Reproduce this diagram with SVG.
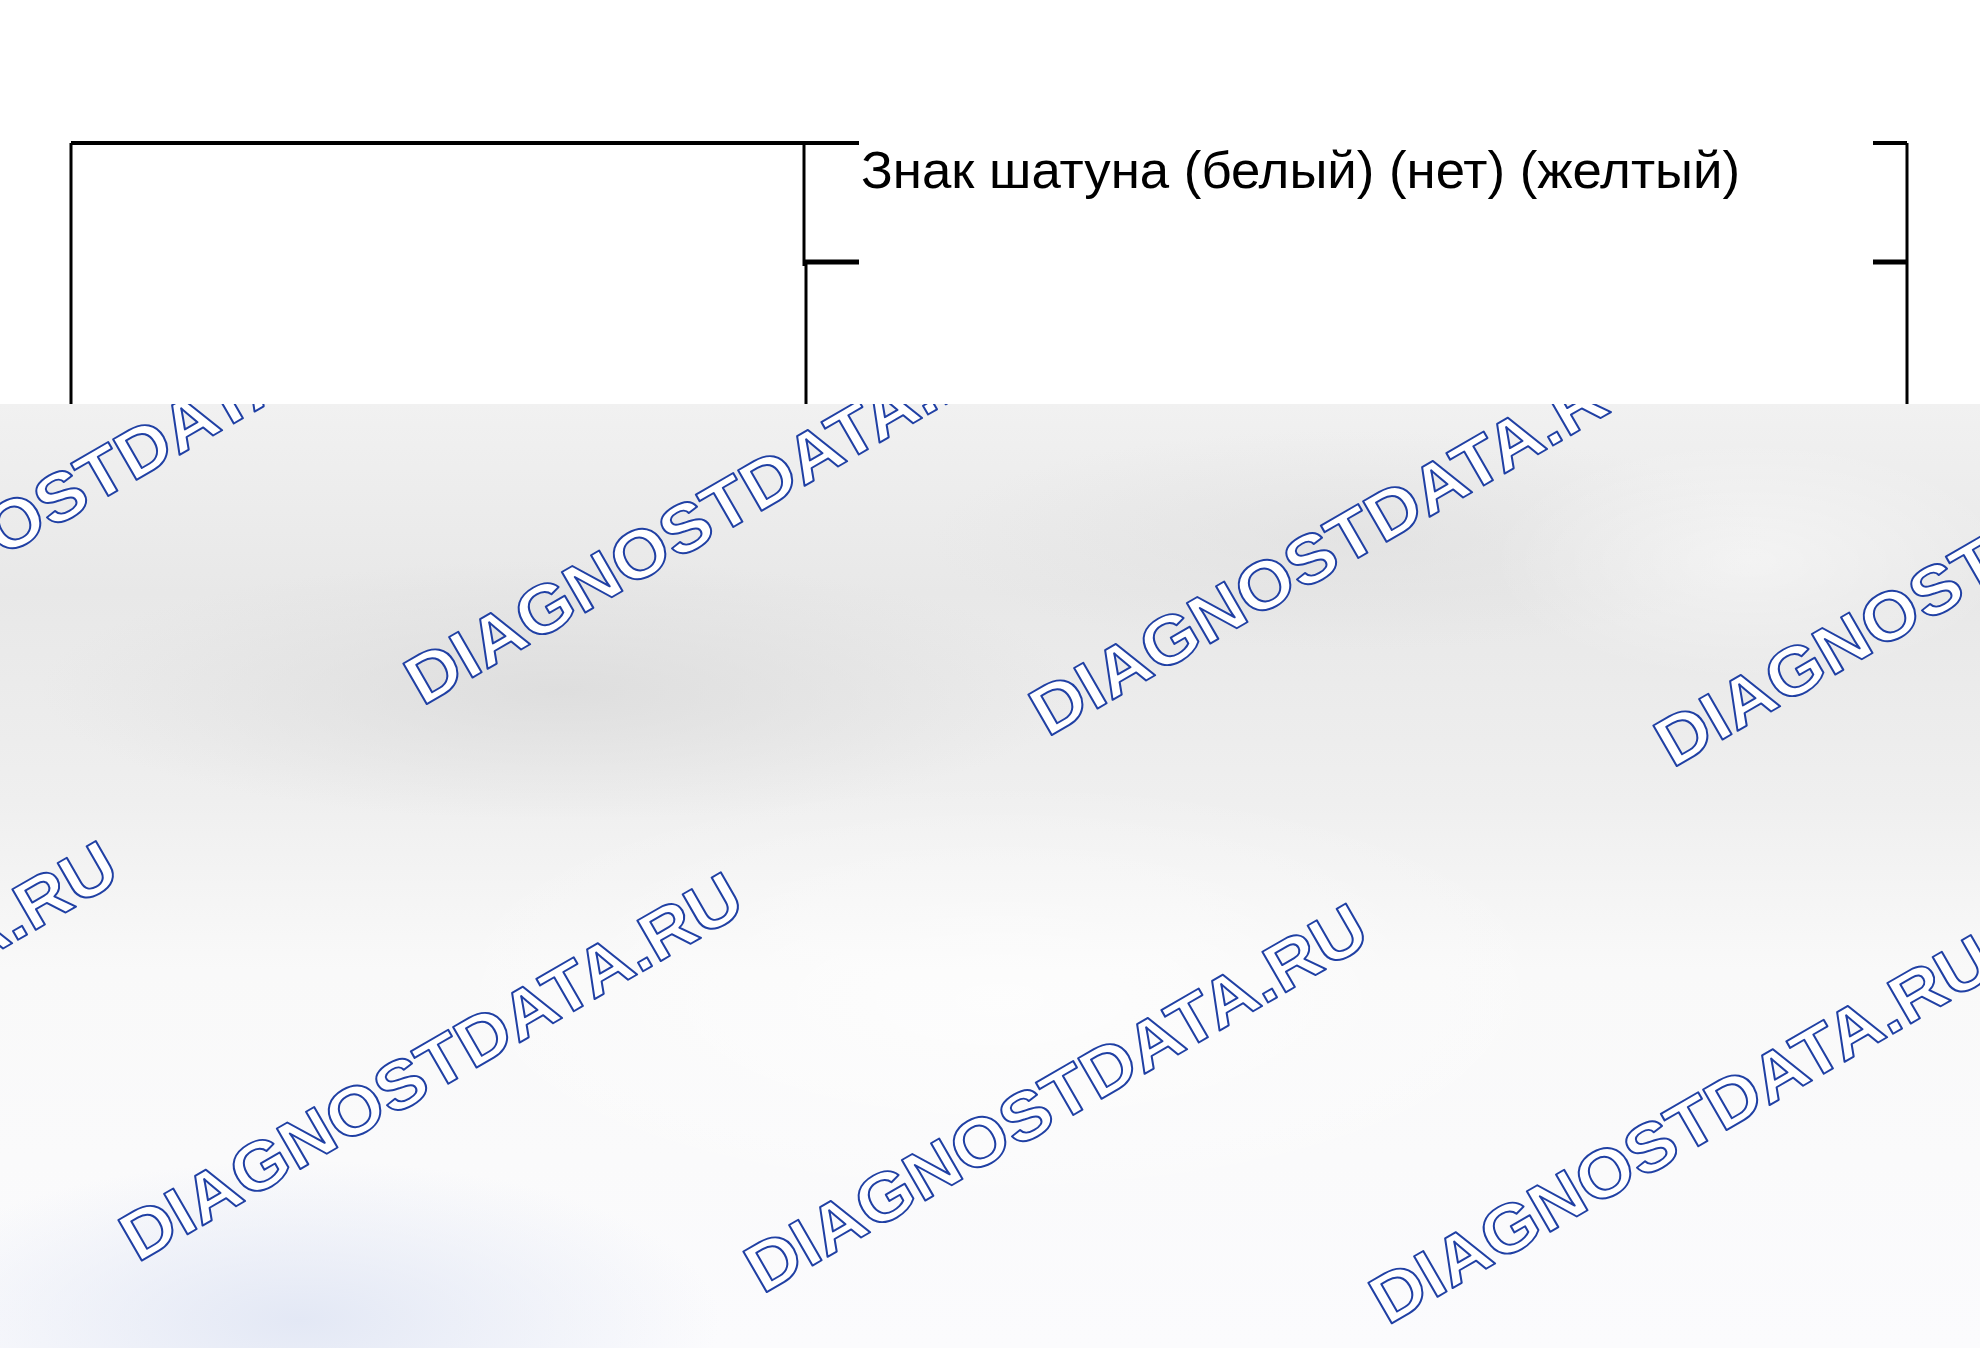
<svg xmlns="http://www.w3.org/2000/svg" width="1980" height="1348" viewBox="0 0 1980 1348">
  <defs>
    <style>
      .ln { stroke: #000; fill: none; stroke-linecap: butt; }
      .lbl { font-family: "Liberation Sans", Arial, sans-serif; font-size: 52px; fill: #000; }
      .wm { font-family: "Liberation Sans", Arial, sans-serif; font-weight: bold; font-size: 68px; fill: #ffffff; stroke: #2040a4; stroke-width: 1.9; stroke-linejoin: round; }
    </style>
    <linearGradient id="bgv" x1="0" y1="404" x2="0" y2="1348" gradientUnits="userSpaceOnUse">
      <stop offset="0" stop-color="#f1f1f1"/>
      <stop offset="0.2" stop-color="#e8e8e8"/>
      <stop offset="0.42" stop-color="#efefef"/>
      <stop offset="0.6" stop-color="#f9f9f9"/>
      <stop offset="1" stop-color="#fbfbfd"/>
    </linearGradient>
    <radialGradient id="blob1" cx="0.5" cy="0.5" r="0.5">
      <stop offset="0" stop-color="#dcdcdc" stop-opacity="0.85"/>
      <stop offset="1" stop-color="#dcdcdc" stop-opacity="0"/>
    </radialGradient>
    <radialGradient id="blue1" cx="0.5" cy="0.5" r="0.5">
      <stop offset="0" stop-color="#e3e8f5" stop-opacity="1"/>
      <stop offset="1" stop-color="#e3e8f5" stop-opacity="0"/>
    </radialGradient>
    <radialGradient id="white1" cx="0.5" cy="0.5" r="0.5">
      <stop offset="0" stop-color="#ffffff" stop-opacity="0.9"/>
      <stop offset="1" stop-color="#ffffff" stop-opacity="0"/>
    </radialGradient>
    <clipPath id="grayclip">
      <rect x="0" y="404" width="1980" height="944"/>
    </clipPath>
  </defs>

  <rect x="0" y="0" width="1980" height="1348" fill="#ffffff"/>

  <g id="table">
    <path class="ln" stroke-width="4" d="M71,143 H859"/>
    <path class="ln" stroke-width="3" d="M71,143 V404"/>
    <path class="ln" stroke-width="3" d="M804,143 V266"/>
    <path class="ln" stroke-width="3" d="M806,262 V404"/>
    <path class="ln" stroke-width="5" d="M804,262 H859"/>
    <path class="ln" stroke-width="4" d="M1873,143 H1907"/>
    <path class="ln" stroke-width="3" d="M1907,143 V404"/>
    <path class="ln" stroke-width="5" d="M1873,262 H1907"/>
  </g>

  <g id="label">
    <text class="lbl" x="861" y="188" textLength="879" lengthAdjust="spacingAndGlyphs">Знак шатуна (белый) (нет) (желтый)</text>
  </g>

  <g id="overlay" clip-path="url(#grayclip)">
    <rect x="0" y="404" width="1980" height="944" fill="url(#bgv)"/>
    <ellipse cx="560" cy="690" rx="520" ry="130" fill="url(#blob1)"/>
    <ellipse cx="1350" cy="540" rx="420" ry="110" fill="url(#blob1)" opacity="0.55"/>
    <ellipse cx="1750" cy="560" rx="260" ry="120" fill="url(#white1)" opacity="0.5"/>
    <ellipse cx="300" cy="1320" rx="420" ry="160" fill="url(#blue1)"/>
    <ellipse cx="1000" cy="1000" rx="600" ry="220" fill="url(#white1)" opacity="0.7"/>

    <g id="watermarks">
      <text class="wm" transform="translate(-202.5,675.4) rotate(-30)" textLength="705" lengthAdjust="spacingAndGlyphs">DIAGNOSTDATA.RU</text>
      <text class="wm" transform="translate(422.5,706.4) rotate(-30)" textLength="705" lengthAdjust="spacingAndGlyphs">DIAGNOSTDATA.RU</text>
      <text class="wm" transform="translate(1047.5,737.4) rotate(-30)" textLength="705" lengthAdjust="spacingAndGlyphs">DIAGNOSTDATA.RU</text>
      <text class="wm" transform="translate(1672.5,768.4) rotate(-30)" textLength="705" lengthAdjust="spacingAndGlyphs">DIAGNOSTDATA.RU</text>
      <text class="wm" transform="translate(-487.5,1231.8) rotate(-30)" textLength="705" lengthAdjust="spacingAndGlyphs">DIAGNOSTDATA.RU</text>
      <text class="wm" transform="translate(137.5,1263.1) rotate(-30)" textLength="705" lengthAdjust="spacingAndGlyphs">DIAGNOSTDATA.RU</text>
      <text class="wm" transform="translate(762.5,1294.4) rotate(-30)" textLength="705" lengthAdjust="spacingAndGlyphs">DIAGNOSTDATA.RU</text>
      <text class="wm" transform="translate(1387.5,1325.7) rotate(-30)" textLength="705" lengthAdjust="spacingAndGlyphs">DIAGNOSTDATA.RU</text>
    </g>
  </g>
</svg>
